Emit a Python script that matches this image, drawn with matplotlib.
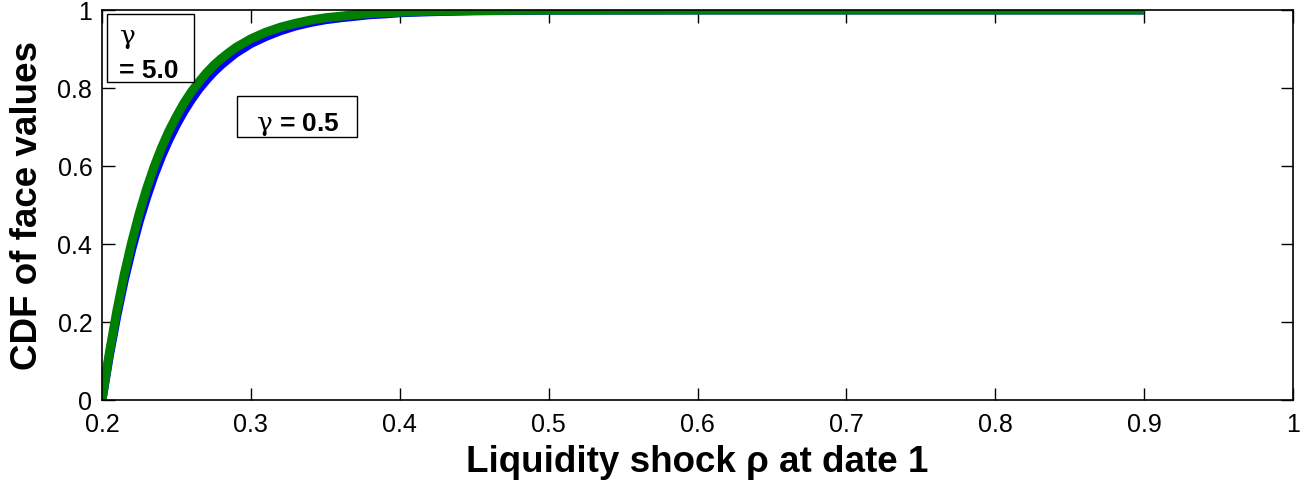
import matplotlib.pyplot as plt
from matplotlib.patches import Rectangle

# values
rho = [0.200, 0.205, 0.210, 0.215, 0.220, 0.225, 0.230, 0.235, 0.240, 0.245,
       0.250, 0.255, 0.260, 0.265, 0.270, 0.275, 0.280, 0.285, 0.290, 0.295,
       0.300, 0.310, 0.320, 0.330, 0.340, 0.350, 0.360, 0.370, 0.380, 0.390,
       0.400, 0.420, 0.450, 0.500, 0.600, 0.700, 0.800, 0.900]
cdf_gamma_05 = [0.000, 0.115, 0.217, 0.308, 0.387, 0.458, 0.520, 0.576, 0.625, 0.668,
                0.706, 0.740, 0.770, 0.797, 0.820, 0.841, 0.859, 0.875, 0.890, 0.902,
                0.914, 0.932, 0.947, 0.959, 0.968, 0.975, 0.980, 0.984, 0.988, 0.990,
                0.993, 0.9955, 0.998, 0.9994, 1.000, 1.000, 1.000, 1.000]
cdf_gamma_50 = [0.000, 0.122, 0.229, 0.323, 0.405, 0.478, 0.542, 0.598, 0.647, 0.690,
                0.727, 0.761, 0.790, 0.815, 0.838, 0.858, 0.875, 0.890, 0.904, 0.915,
                0.926, 0.943, 0.956, 0.966, 0.974, 0.980, 0.984, 0.988, 0.991, 0.993,
                0.9945, 0.997, 0.9985, 0.9996, 1.000, 1.000, 1.000, 1.000]
xticks = [0.2, 0.3, 0.4, 0.5, 0.6, 0.7, 0.8, 0.9, 1.0]
xtick_labels = ['0.2', '0.3', '0.4', '0.5', '0.6', '0.7', '0.8', '0.9', '1']
yticks = [0, 0.2, 0.4, 0.6, 0.8, 1.0]
ytick_labels = ['0', '0.2', '0.4', '0.6', '0.8', '1']

plt.rcParams['font.family'] = ['Liberation Sans', 'DejaVu Sans']
plt.rcParams['mathtext.fontset'] = 'custom'
plt.rcParams['mathtext.rm'] = 'DejaVu Serif'
plt.rcParams['mathtext.it'] = 'DejaVu Serif'

W, H = 1305, 486
fig = plt.figure(figsize=(W / 100, H / 100), dpi=100)
ax = fig.add_axes([102 / W, (H - 400) / H, (1293 - 102) / W, 390 / H])

ax.plot(rho, cdf_gamma_05, color='#0000ff', lw=6.5, solid_capstyle='butt')
ax.plot(rho, cdf_gamma_50, color='#008000', lw=6.5, solid_capstyle='butt')

ax.set_xlim(0.2, 1.0)
ax.set_ylim(0, 1)
ax.set_xticks(xticks)
ax.set_xticklabels(xtick_labels)
ax.set_yticks(yticks)
ax.set_yticklabels(ytick_labels)
ax.tick_params(direction='in', length=9, width=1, top=True, right=True,
               labelsize=18)
ax.tick_params(axis='x', pad=9)
ax.tick_params(axis='y', pad=7)
for s in ax.spines.values():
    s.set_linewidth(1.2)

ax.set_xlabel('Liquidity shock \u03c1 at date 1', fontsize=26.5, fontweight='bold', labelpad=6)
ax.set_ylabel('CDF of face values', fontsize=26.5, fontweight='bold', labelpad=9)

# annotation boxes
ax.add_patch(Rectangle((0.0042, 0.815), 0.073, 0.175, transform=ax.transAxes,
                       fc='white', ec='black', lw=1, zorder=5))
ax.text(0.0145, 0.925, r'$\gamma$', transform=ax.transAxes, fontsize=19,
        va='center', ha='left', zorder=6)
ax.text(0.0145, 0.843, '= 5.0', transform=ax.transAxes, fontsize=19,
        fontweight='bold', va='center', ha='left', zorder=6)

ax.add_patch(Rectangle((0.1133, 0.674), 0.1008, 0.105, transform=ax.transAxes,
                       fc='white', ec='black', lw=1, zorder=5))
ax.text(0.1295, 0.706, r'$\gamma$' + ' = 0.5', transform=ax.transAxes, fontsize=19,
        fontweight='bold', va='center', ha='left', zorder=6)

fig.savefig('out.png', dpi=100)
